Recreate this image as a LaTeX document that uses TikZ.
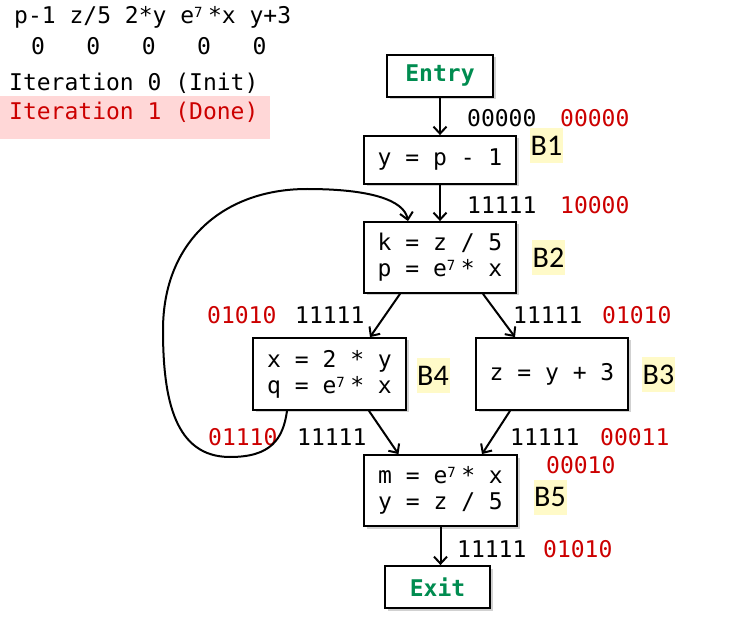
\documentclass[tikz,border=0pt]{standalone}
\usepackage{fontspec}
\setmonofont{DejaVu Sans Mono}
\newfontfamily\carlito{Carlito}
\usetikzlibrary{arrows.meta,shadows,calc}
\definecolor{cred}{RGB}{204,0,0}
\definecolor{cgreen}{RGB}{0,140,80}
\definecolor{cyel}{RGB}{255,250,200}
\definecolor{cpink}{RGB}{255,215,215}
\newcommand\esev{e\rlap{\raisebox{6pt}{\fontsize{14}{14}\selectfont 7}}\hphantom{0}}
\begin{document}
\begin{tikzpicture}[x=1pt,y=-1pt,
  every node/.style={font=\ttfamily\fontsize{23}{26}\selectfont, inner sep=0pt},
  blk/.style={draw, line width=1.8pt, fill=white, align=center,
    drop shadow={shadow xshift=2.5pt,shadow yshift=-2.5pt,fill=black!40,opacity=0.45}},
  lbl/.style={fill=cyel, minimum width=33pt, minimum height=35pt, font=\carlito\fontsize{30}{30}\selectfont},
  bits/.style={anchor=west},
  rbits/.style={anchor=west, text=cred},
  flow/.style={line width=2pt, -{Straight Barb[length=7pt,width=13pt]}},
  ee/.style={font=\ttfamily\bfseries\fontsize{23}{26}\selectfont, text=cgreen},
]
\useasboundingbox (0,0) rectangle (748,631);

% legend
\fill[cpink] (0,96) rectangle (270,139);
\node[bits] (hdr) at (14,17) {p-1 z/5 2*y \esev*x y+3};
\node[bits] (zer) at (17,46.5) {~0~~~0~~~0~~~0~~~0};
\node[bits] (it0) at (9,83) {Iteration 0 (Init)};
\node[bits, text=cred] (it1) at (9,112) {Iteration 1 (Done)};

% blocks
\node[blk, ee, minimum width=106pt, minimum height=42pt] (entry) at (440,76) {Entry};
\node[blk, minimum width=152pt, minimum height=48pt] (b1) at (440,160) {y = p - 1};
\node[blk, minimum width=152pt, minimum height=71pt] (b2) at (440,257.5) {k = z / 5\\p = \esev* x};
\node[blk, minimum width=153pt, minimum height=72pt] (b4) at (329.5,374) {x = 2 * y\\q = \esev* x};
\node[blk, minimum width=152pt, minimum height=72pt] (b3) at (552,374) {z = y + 3};
\node[blk, minimum width=153pt, minimum height=71pt] (b5) at (440.5,490.5) {m = \esev* x\\y = z / 5};
\node[blk, ee, minimum width=105pt, minimum height=42pt] (exit) at (437.5,587) {Exit};

% block labels
\node[lbl] (l1) at (546.5,145.5) {B1};
\node[lbl] (l2) at (548.5,257.5) {B2};
\node[lbl] (l4) at (433,375.5) {B4};
\node[lbl] (l3) at (658.5,374.5) {B3};
\node[lbl] (l5) at (550,497) {B5};

% bit vectors
\node[bits] (e1a) at (467,118.5) {00000};
\node[rbits] (e1b) at (560,118.5) {00000};
\node[bits] (e2a) at (467,205) {11111};
\node[rbits] (e2b) at (560,205) {10000};
\node[rbits] (e3a) at (207,315) {01010};
\node[bits] (e3b) at (295,315) {11111};
\node[bits] (e4a) at (513,315) {11111};
\node[rbits] (e4b) at (602,315) {01010};
\node[rbits] (e5a) at (208,437) {01110};
\node[bits] (e5b) at (297,437) {11111};
\node[bits] (e6a) at (510,437) {11111};
\node[rbits] (e6b) at (600,437) {00011};
\node[rbits] (e7) at (546,465) {00010};
\node[bits] (e8a) at (457,549.5) {11111};
\node[rbits] (e8b) at (543,549.5) {01010};

% edges
\draw[flow] (entry) -- (b1);
\draw[flow] (b1) -- (b2);
\draw[flow] ([xshift=-40pt]b2.south) -- ([xshift=40.5pt]b4.north);
\draw[flow] ([xshift=43pt]b2.south) -- ([xshift=-37pt]b3.north);
\draw[flow] ([xshift=39.5pt]b4.south) -- ([xshift=-42pt]b5.north);
\draw[flow] ([xshift=-42pt]b3.south) -- ([xshift=41.5pt]b5.north);
\draw[flow] (b5.south) -- (b5.south |- exit.north);
\draw[flow] ([xshift=-42.5pt]b4.south) .. controls (283,440) and (270,457) .. (230,457)
  .. controls (175,457) and (163,400) .. (163,330)
  .. controls (163,240) and (225,189) .. (307,189)
  .. controls (370,189) and (404,200) .. ([xshift=-32pt]b2.north);
\end{tikzpicture}
\end{document}
